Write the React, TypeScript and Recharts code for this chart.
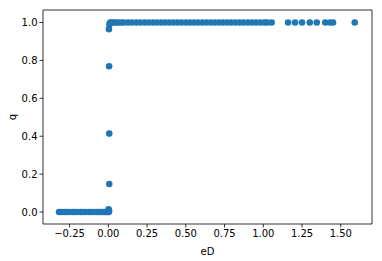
import React from "react";
import { ScatterChart, Scatter, XAxis, YAxis, ReferenceLine, Label } from "recharts";

// eD values where q sits at 0
const lowerX = [
  -0.318, -0.302, -0.284, -0.268, -0.25, -0.232, -0.214, -0.196, -0.178, -0.161,
  -0.144, -0.126, -0.109, -0.092, -0.075, -0.058, -0.042, -0.028, -0.016, -0.006, 0.003,
];

// the jump near eD = 0
const jumpX = [0.002, 0.005, 0.006, 0.006, 0.005, 0.004, 0.007];
const jumpY = [0.015, 0.006, 0.148, 0.414, 0.769, 0.965, 0.99];

// eD values where q sits at 1
const upperX = [
  0.012, 0.022, 0.034, 0.048, 0.064, 0.082, 0.1, 0.127, 0.153, 0.181,
  0.207, 0.234, 0.26, 0.287, 0.313, 0.341, 0.367, 0.394, 0.42, 0.447,
  0.473, 0.501, 0.527, 0.553, 0.58, 0.607, 0.633, 0.661, 0.687, 0.713,
  0.74, 0.767, 0.793, 0.821, 0.847, 0.873, 0.9, 0.927, 0.953, 0.981,
  1.007, 1.026, 1.054, 1.16, 1.205, 1.25, 1.3, 1.345, 1.4, 1.43,
  1.45, 1.59,
];

const xTicks = [-0.25, 0, 0.25, 0.5, 0.75, 1.0, 1.25, 1.5];
const yTicks = [0, 0.2, 0.4, 0.6, 0.8, 1.0];

const points = [
  ...lowerX.map((x) => ({ eD: x, q: 0 })),
  ...jumpX.map((x, i) => ({ eD: x, q: jumpY[i] })),
  ...upperX.map((x) => ({ eD: x, q: 1 })),
];

const X_DOMAIN: [number, number] = [-0.4215, 1.7015];
const Y_DOMAIN: [number, number] = [-0.063, 1.066];
const FONT = "DejaVu Sans";
const tickStyle = { fill: "#000", fontSize: 10, fontFamily: FONT };

const fmt = (v: number, d: number) => {
  const s = Math.abs(v).toFixed(d);
  return v < 0 ? "\u2212" + s : s;
};

const Dot = (props: any) => <circle cx={props.cx} cy={props.cy} r={3.3} fill="#1f77b4" />;

export default function App() {
  return (
    <div style={{ position: "absolute", left: 0, top: 0, width: 382, height: 261, background: "#fff" }}>
      <ScatterChart width={382} height={261} margin={{ top: 10, right: 10, bottom: 0, left: 0 }}>
        <XAxis
          type="number"
          dataKey="eD"
          domain={X_DOMAIN}
          ticks={xTicks}
          allowDataOverflow
          tickFormatter={(v: number) => fmt(v, 2)}
          tick={tickStyle}
          tickSize={3.5}
          tickMargin={2}
          height={37}
          stroke="#000"
          strokeWidth={0.8}
          interval={0}
        >
          <Label value="eD" position="insideBottom" offset={6} style={{ fontSize: 10, fontFamily: FONT, fill: "#000" }} />
        </XAxis>
        <YAxis
          type="number"
          dataKey="q"
          domain={Y_DOMAIN}
          ticks={yTicks}
          allowDataOverflow
          tickFormatter={(v: number) => fmt(v, 1)}
          tick={tickStyle}
          tickSize={3.5}
          tickMargin={2}
          width={43}
          stroke="#000"
          strokeWidth={0.8}
          interval={0}
        >
          <Label
            content={(p: any) => {
              const vb = p.viewBox || { x: 0, y: 0, height: 0 };
              const cx = 12;
              const cy = vb.y + vb.height / 2;
              return (
                <text
                  x={cx}
                  y={cy}
                  transform={`rotate(-90 ${cx} ${cy})`}
                  textAnchor="middle"
                  dominantBaseline="central"
                  style={{ fontSize: 10, fontFamily: FONT, fill: "#000" }}
                >
                  q
                </text>
              );
            }}
          />
        </YAxis>
        <ReferenceLine y={Y_DOMAIN[1]} stroke="#000" strokeWidth={0.8} />
        <ReferenceLine x={X_DOMAIN[1]} stroke="#000" strokeWidth={0.8} />
        <Scatter data={points} shape={Dot} isAnimationActive={false} />
      </ScatterChart>
    </div>
  );
}
